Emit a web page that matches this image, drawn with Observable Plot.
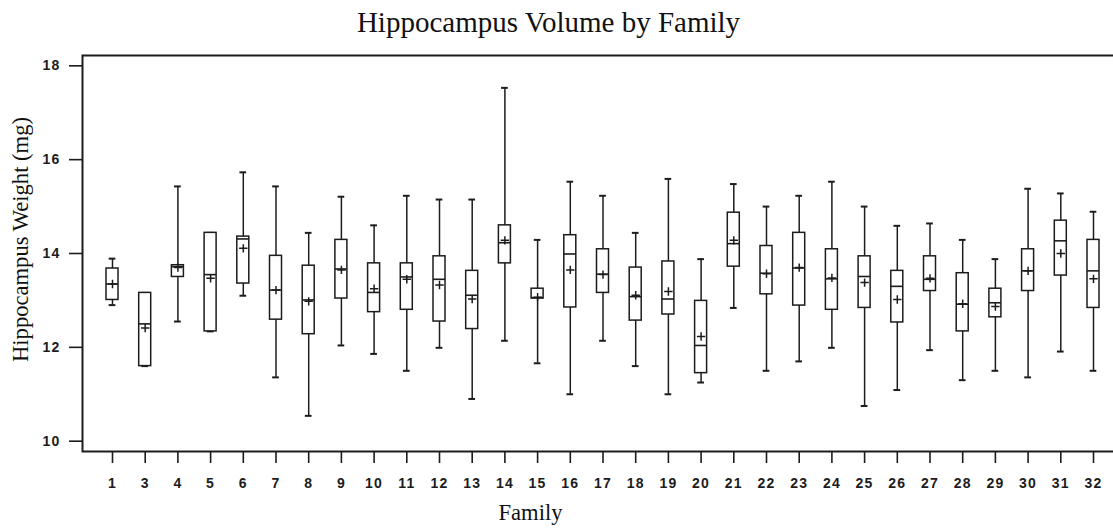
<!DOCTYPE html>
<html>
<head>
<meta charset="utf-8">
<script src="https://cdn.jsdelivr.net/npm/d3@7"></script>
<script src="https://cdn.jsdelivr.net/npm/@observablehq/plot@0.6"></script>
<style>
  html, body { margin: 0; padding: 0; background: #fff; overflow: hidden; }
  #chart svg { display: block; overflow: hidden; }
  #chart g[aria-label="x-axis tick label"] text,
  #chart g[aria-label="y-axis tick label"] text { letter-spacing: 1.2px; }
</style>
</head>
<body>
<div id="chart"></div>
<script>
// ---- data ----
const families   = ["1","3","4","5","6","7","8","9","10","11","12","13","14","15","16","17","18","19","20","21","22","23","24","25","26","27","28","29","30","31","32"];
const whiskerLow = [12.90,11.60,12.55,12.34,13.10,11.36,10.54,12.04,11.86,11.50,11.99,10.90,12.14,11.66,11.00,12.14,11.60,11.00,11.25,12.84,11.50,11.70,11.99,10.75,11.09,11.94,11.30,11.50,11.36,11.91,11.50];
const q1         = [13.01,11.60,13.50,12.34,13.36,12.59,12.28,13.04,12.75,12.80,12.55,12.39,13.79,13.04,12.85,13.16,12.57,12.70,11.45,13.72,13.13,12.89,12.80,12.84,12.53,13.20,12.34,12.64,13.20,13.53,12.84];
const median     = [13.35,12.50,13.72,13.55,14.31,13.22,13.01,13.67,13.17,13.50,13.45,13.11,14.23,13.06,13.99,13.56,13.08,13.03,12.04,14.21,13.58,13.69,13.46,13.51,13.30,13.45,12.92,12.95,13.63,14.27,13.63];
const q3         = [13.68,13.16,13.75,14.44,14.36,13.95,13.74,14.29,13.79,13.79,13.94,13.63,14.60,13.25,14.39,14.09,13.70,13.83,12.99,14.87,14.16,14.44,14.09,13.94,13.63,13.94,13.58,13.25,14.09,14.70,14.29];
const whiskerHigh= [13.89,13.16,15.43,14.44,15.73,15.43,14.44,15.21,14.60,15.23,15.15,15.15,17.53,14.29,15.53,15.23,14.44,15.59,13.88,15.48,15.00,15.23,15.53,15.00,14.59,14.64,14.29,13.88,15.38,15.28,14.89];
const means      = [13.35,12.41,13.70,13.47,14.11,13.22,12.98,13.65,13.25,13.45,13.33,13.03,14.28,13.07,13.65,13.55,13.11,13.19,12.23,14.28,13.57,13.70,13.48,13.38,13.02,13.47,12.93,12.87,13.63,14.00,13.46];
const yTicks      = [10, 12, 14, 16, 18];
const yTickLabels = ["10", "12", "14", "16", "18"];
const titleText  = "Hippocampus Volume by Family";
const xLabelText = "Family";
const yLabelText = "Hippocampus Weight (mg)";

const data = families.map((f, i) => ({
  family: f, lo: whiskerLow[i], q1: q1[i], median: median[i], q3: q3[i], hi: whiskerHigh[i], mean: means[i]
}));

const ink = "#1c1c1c";
const serif = "'Liberation Serif', 'Times New Roman', serif";
const tickFont = "'Liberation Sans', Arial, sans-serif";

// thin "+" symbol for the means
const thinCross = {
  draw(ctx, size) {
    const r = Math.sqrt(size / Math.PI);
    ctx.moveTo(-r, 0); ctx.lineTo(r, 0);
    ctx.moveTo(0, -r); ctx.lineTo(0, r);
  }
};

const chart = Plot.plot({
  width: 1113,
  height: 528,
  marginTop: 55,
  marginBottom: 77,
  marginLeft: 82,
  marginRight: -2,
  style: { background: "#fff", color: ink },
  x: { type: "band", domain: families, padding: 0, round: false, insetLeft: 13.65, insetRight: 5.65, axis: null },
  y: { domain: [9.78, 18.22], axis: null },
  marks: [
    Plot.frame({ stroke: ink, strokeWidth: 2 }),
    Plot.axisY(yTicks, {
      tickSize: 13, tickPadding: 9, color: ink, strokeWidth: 1.6,
      tickFormat: d => yTickLabels[yTicks.indexOf(d)],
      fontSize: 14, fontWeight: "bold", fontFamily: tickFont, label: null
    }),
    Plot.axisX(families, {
      tickSize: 12, tickPadding: 15, color: ink, strokeWidth: 1.6,
      fontSize: 14, fontWeight: "bold", fontFamily: tickFont, label: null
    }),
    // whiskers
    Plot.ruleX(data, { x: "family", y1: "lo", y2: "hi", stroke: ink, strokeWidth: 1.5 }),
    // whisker caps
    Plot.tickY(data, { x: "family", y: "hi", stroke: ink, strokeWidth: 2, insetLeft: 13, insetRight: 13 }),
    Plot.tickY(data, { x: "family", y: "lo", stroke: ink, strokeWidth: 2, insetLeft: 13, insetRight: 13 }),
    // boxes
    Plot.barY(data, { x: "family", y1: "q1", y2: "q3", fill: "#fff", stroke: ink, strokeWidth: 1.5, insetLeft: 10.35, insetRight: 10.35 }),
    // medians
    Plot.tickY(data, { x: "family", y: "median", stroke: ink, strokeWidth: 1.6, insetLeft: 10.35, insetRight: 10.35 }),
    // means
    Plot.dot(data, { x: "family", y: "mean", symbol: thinCross, r: 4.2, stroke: ink, strokeWidth: 1.5, fill: "none" }),
    // title and axis labels
    Plot.text([titleText], {
      frameAnchor: "top-left", dx: 466, dy: -23.5, lineAnchor: "bottom", textAnchor: "middle",
      fontSize: 29, fontFamily: serif, fill: "#111"
    }),
    Plot.text([xLabelText], {
      frameAnchor: "top-left", dx: 448, dy: 464, lineAnchor: "bottom", textAnchor: "middle",
      fontSize: 22.6, fontFamily: serif, fill: "#111"
    }),
    Plot.text([yLabelText], {
      frameAnchor: "top-left", dx: -55, dy: 184, rotate: -90, lineAnchor: "bottom", textAnchor: "middle",
      fontSize: 22.6, fontFamily: serif, fill: "#111"
    })
  ]
});

document.getElementById("chart").appendChild(chart);
</script>
</body>
</html>
